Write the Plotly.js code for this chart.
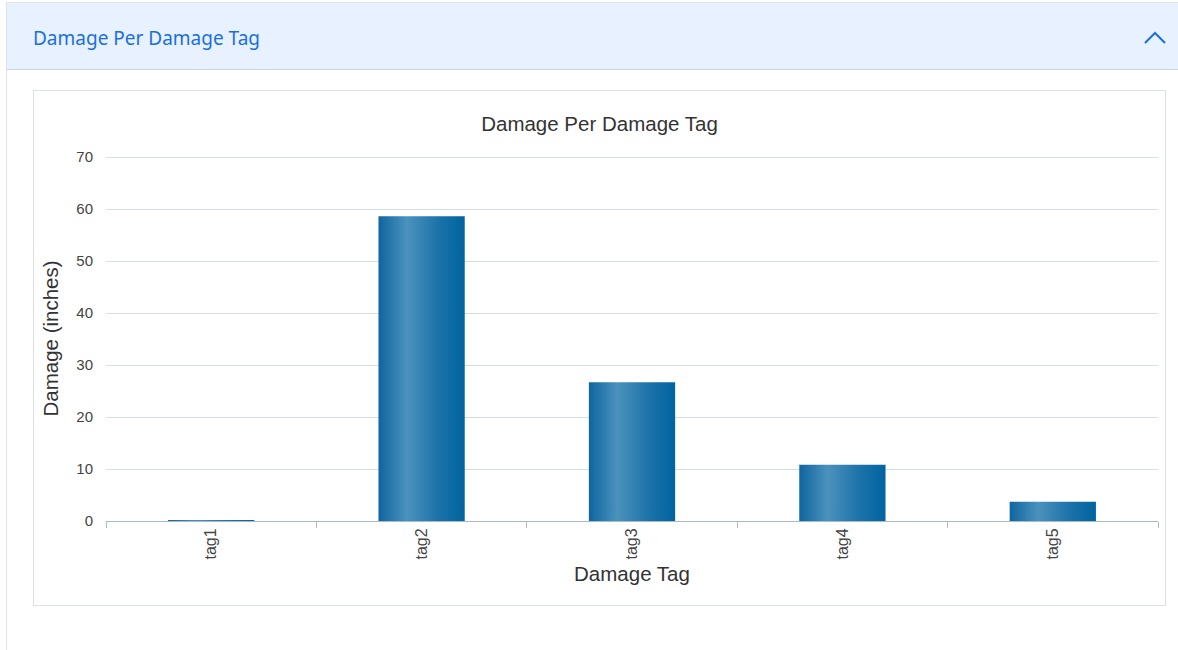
<!DOCTYPE html>
<html>
<head>
<meta charset="utf-8">
<script src="https://cdn.plot.ly/plotly-3.0.1.min.js"></script>
<style>
  html, body { margin: 0; padding: 0; background: #ffffff; width: 1178px; height: 650px; overflow: hidden; }
  .card { position: absolute; left: 6px; top: 2px; width: 1180px; height: 660px; border: 1px solid #dfe3e8; background: #fff; }
  .header { position: absolute; left: 0; top: 0; width: 100%; height: 66px; background: #e7f1ff; border-bottom: 1px solid #c9d7ea; }
  .header .t { position: absolute; left: 26px; top: 21px; font-family: "Segoe UI", "Noto Sans", "Open Sans", sans-serif; font-size: 19px; color: #1a6fe0; line-height: 28px; }
  .header svg { position: absolute; left: 1136px; top: 27px; }
  .chartbox { position: absolute; left: 33px; top: 90px; width: 1131px; height: 514px; border: 1px solid #dcdfe3; background: #fff; }
  #chart { position: absolute; left: 0; top: 0; width: 1131px; height: 514px; }
</style>
</head>
<body>
<div class="card">
  <div class="header">
    <div class="t">Damage Per Damage Tag</div>
    <svg width="26" height="16" viewBox="0 0 26 16"><polyline points="2,13 12,3 22,13" fill="none" stroke="#1a6fe0" stroke-width="2"/></svg>
  </div>
</div>
<div class="chartbox"><div id="chart"></div></div>
<script>
const categories = ["tag1", "tag2", "tag3", "tag4", "tag5"];
const damageValues = [0.2, 58.6, 26.7, 10.8, 3.7];
const yTickValues = [0, 10, 20, 30, 40, 50, 60, 70];

const font = "Liberation Sans, Arial, sans-serif";

const trace = {
  type: "bar",
  x: categories,
  y: damageValues,
  marker: { color: "#1a6fa6", line: { width: 0 } },
  hoverinfo: "x+y"
};

const layout = {
  width: 1131,
  height: 514,
  margin: { l: 72, r: 7, t: 65, b: 84, pad: 0 },
  paper_bgcolor: "#ffffff",
  plot_bgcolor: "#ffffff",
  bargap: 0.59,
  showlegend: false,
  font: { family: font, color: "#444444", size: 15 },
  title: { text: "Damage Per Damage Tag", font: { family: font, size: 20.5, color: "#333333" }, x: 0.5, xanchor: "center", xref: "container", y: 1 - 33 / 514, yanchor: "middle", yref: "container", automargin: false },
  xaxis: {
    type: "category",
    tickangle: -90,
    ticks: "outside",
    tickson: "boundaries",
    ticklen: 6,
    tickcolor: "#a9b9c6",
    showline: true,
    linecolor: "#a9b9c6",
    linewidth: 1,
    showgrid: false,
    tickfont: { family: font, size: 16, color: "#444444" },
    title: { text: "Damage Tag", font: { family: font, size: 20.5, color: "#333333" }, standoff: 8 }
  },
  yaxis: {
    range: [0, 70.2],
    tickvals: yTickValues,
    showgrid: true,
    gridcolor: "#d6dee5",
    gridwidth: 1,
    zeroline: false,
    showline: false,
    ticks: "",
    ticklabelstandoff: 12,
    tickfont: { family: font, size: 15, color: "#444444" },
    title: { text: "Damage (inches)", font: { family: font, size: 20.5, color: "#333333" }, standoff: 12 }
  }
};

Plotly.newPlot("chart", [trace], layout, { displayModeBar: false, staticPlot: true }).then(function (gd) {
  const svg = gd.querySelector("svg.main-svg");
  const ns = "http://www.w3.org/2000/svg";
  let defs = svg.querySelector("defs");
  if (!defs) { defs = document.createElementNS(ns, "defs"); svg.insertBefore(defs, svg.firstChild); }
  const lg = document.createElementNS(ns, "linearGradient");
  lg.setAttribute("id", "barGrad");
  lg.setAttribute("x1", "0"); lg.setAttribute("y1", "0");
  lg.setAttribute("x2", "1"); lg.setAttribute("y2", "0");
  [["0", "#0f65a0"], ["0.33", "#4b92bd"], ["0.7", "#1c72a9"], ["1", "#0064a0"]].forEach(function (s) {
    const st = document.createElementNS(ns, "stop");
    st.setAttribute("offset", s[0]);
    st.setAttribute("stop-color", s[1]);
    lg.appendChild(st);
  });
  defs.appendChild(lg);
  gd.querySelectorAll(".barlayer .point path").forEach(function (p) {
    p.style.fill = "url(#barGrad)";
    p.style.fillOpacity = "1";
  });
});
</script>
</body>
</html>
